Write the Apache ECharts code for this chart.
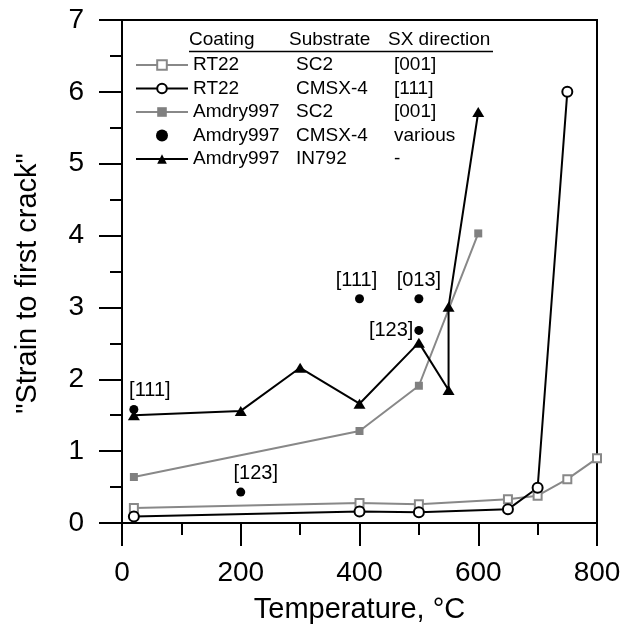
<!DOCTYPE html>
<html lang="en">
<head>
    <meta charset="UTF-8">
    <title>Strain to first crack</title>
    <script src="https://cdn.jsdelivr.net/npm/echarts@6/dist/echarts.min.js"></script>
    <style>
        body { margin: 0; background: #fff; }
        #box { width: 636px; height: 629px; }
    </style>
</head>
<body>
<div id="box"></div>
<script>
    // RT22 / SC2 [001]
    var rtScTemp = [20, 400, 500, 650, 700, 750, 800];
    var rtScVal = [0.21, 0.28, 0.26, 0.33, 0.38, 0.61, 0.90];
    // RT22 / CMSX-4 [111]
    var rtCmTemp = [20, 400, 500, 650, 700, 750];
    var rtCmVal = [0.09, 0.16, 0.15, 0.19, 0.49, 6.0];
    // Amdry997 / SC2 [001]
    var amScTemp = [20, 400, 500, 600];
    var amScVal = [0.64, 1.28, 1.91, 4.03];
    // Amdry997 / CMSX-4 various
    var amCmTemp = [20, 200, 400, 500, 500];
    var amCmVal = [1.58, 0.43, 3.12, 3.12, 2.68];
    var amCmLabels = ['[111]', '[123]', '[111]', '[013]', '[123]'];
    // Amdry997 / IN792
    var amInTemp = [20, 200, 300, 400, 500, 550, 550, 600];
    var amInVal = [1.50, 1.56, 2.16, 1.66, 2.51, 1.85, 3.01, 5.72];

    var legendRows = {
        'RT22/SC2': ['RT22', 'SC2', '[001]'],
        'RT22/CMSX-4': ['RT22', 'CMSX-4', '[111]'],
        'Amdry997/SC2': ['Amdry997', 'SC2', '[001]'],
        'Amdry997/CMSX-4': ['Amdry997', 'CMSX-4', 'various'],
        'Amdry997/IN792': ['Amdry997', 'IN792', '-']
    };

    function pairs(xs, ys) {
        var out = [];
        for (var i = 0; i < xs.length; i++) out.push([xs[i], ys[i]]);
        return out;
    }

    var font = 'Liberation Sans, Arial, sans-serif';
    var gray = '#888';

    // label placement for the CMSX-4 points
    var labelPos = [
        {position: 'top', offset: [16, 0]},
        {position: 'top', offset: [15, 0]},
        {position: 'top', offset: [-3, 0]},
        {position: 'top', offset: [0, 0]},
        {position: 'left', offset: [0, 0], distance: 1}
    ];
    var amCmData = pairs(amCmTemp, amCmVal).map(function (p, i) {
        return {
            value: p,
            label: Object.assign({show: true, formatter: amCmLabels[i], distance: 4}, labelPos[i])
        };
    });

    var mychart = echarts.init(document.getElementById('box'));
    var option = {
        animation: false,
        textStyle: {fontFamily: font},
        grid: {left: 122, right: 39, top: 20, bottom: 106, show: true, borderColor: '#000', borderWidth: 2},
        legend: {
            orient: 'vertical',
            left: 135,
            top: 55,
            padding: 0,
            itemWidth: 52,
            itemHeight: 12,
            itemGap: 3.5,
            selectedMode: false,
            textStyle: {
                fontFamily: font, fontSize: 19, color: '#000', lineHeight: 20,
                rich: {
                    a: {width: 103, fontSize: 19, fontFamily: font, lineHeight: 20},
                    b: {width: 98, fontSize: 19, fontFamily: font, lineHeight: 20},
                    c: {fontSize: 19, fontFamily: font, lineHeight: 20}
                }
            },
            formatter: function (name) {
                var r = legendRows[name];
                return '{a|' + r[0] + '}{b|' + r[1] + '}{c|' + r[2] + '}';
            },
            data: ['RT22/SC2', 'RT22/CMSX-4', 'Amdry997/SC2', 'Amdry997/CMSX-4', 'Amdry997/IN792']
        },
        graphic: [
            {type: 'text', left: 189, top: 30, style: {text: 'Coating', font: '19px ' + font, fill: '#000'}},
            {type: 'text', left: 289, top: 30, style: {text: 'Substrate', font: '19px ' + font, fill: '#000'}},
            {type: 'text', left: 388, top: 30, style: {text: 'SX direction', font: '19px ' + font, fill: '#000'}},
            {type: 'line', shape: {x1: 189, y1: 51.5, x2: 493, y2: 51.5}, style: {stroke: '#000', lineWidth: 1.5}}
        ],
        xAxis: {
            type: 'value',
            min: 0, max: 800, interval: 200,
            name: 'Temperature, °C',
            nameLocation: 'middle',
            nameGap: 72,
            nameTextStyle: {fontSize: 29, color: '#000', fontFamily: font},
            splitLine: {show: false},
            axisLine: {lineStyle: {color: '#000', width: 2}},
            axisTick: {length: 23, lineStyle: {color: '#000', width: 2}},
            minorTick: {show: true, splitNumber: 2, length: 12, lineStyle: {color: '#000', width: 2}},
            axisLabel: {fontSize: 28, color: '#000', margin: 36, fontFamily: font}
        },
        yAxis: {
            type: 'value',
            min: 0, max: 7, interval: 1,
            name: '"Strain to first crack"',
            nameLocation: 'middle',
            nameGap: 80,
            nameTextStyle: {fontSize: 29, color: '#000', fontFamily: font, padding: [0, 24, 0, 0]},
            splitLine: {show: false},
            axisLine: {show: true, lineStyle: {color: '#000', width: 2}},
            axisTick: {show: true, length: 23, lineStyle: {color: '#000', width: 2}},
            minorTick: {show: true, splitNumber: 2, length: 12, lineStyle: {color: '#000', width: 2}},
            axisLabel: {fontSize: 28, color: '#000', margin: 38, fontFamily: font}
        },
        series: [
            {
                name: 'RT22/SC2',
                type: 'line',
                data: pairs(rtScTemp, rtScVal),
                symbol: 'emptyRect',
                symbolSize: 8,
                color: gray,
                itemStyle: {color: gray, borderWidth: 1.2},
                lineStyle: {color: gray, width: 2}
            },
            {
                name: 'RT22/CMSX-4',
                type: 'line',
                data: pairs(rtCmTemp, rtCmVal),
                symbol: 'emptyCircle',
                symbolSize: 10,
                color: '#000',
                itemStyle: {color: '#000', borderWidth: 1.5},
                lineStyle: {color: '#000', width: 2}
            },
            {
                name: 'Amdry997/SC2',
                type: 'line',
                data: pairs(amScTemp, amScVal),
                symbol: 'rect',
                symbolSize: 8,
                color: '#808080',
                itemStyle: {color: '#808080'},
                lineStyle: {color: gray, width: 2}
            },
            {
                name: 'Amdry997/IN792',
                type: 'line',
                data: pairs(amInTemp, amInVal),
                symbol: 'triangle',
                symbolSize: [12, 10],
                color: '#000',
                itemStyle: {color: '#000'},
                lineStyle: {color: '#000', width: 2}
            },
            {
                name: 'Amdry997/CMSX-4',
                type: 'scatter',
                data: amCmData,
                symbol: 'circle',
                symbolSize: 9,
                color: '#000',
                itemStyle: {color: '#000', opacity: 1},
                label: {color: '#000', fontSize: 20, fontFamily: font}
            }
        ]
    };
    mychart.setOption(option);
</script>
</body>
</html>
